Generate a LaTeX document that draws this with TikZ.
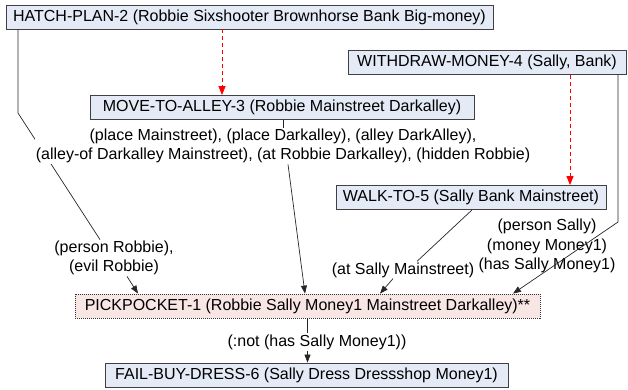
\documentclass[tikz,border=0pt]{standalone}
\usepackage{fontspec}
\setmainfont{Liberation Sans}
\usetikzlibrary{arrows.meta}
\definecolor{stepfill}{HTML}{E4EBF6}
\definecolor{flawfill}{HTML}{F8E6E4}
\definecolor{orderred}{HTML}{FF0000}

\begin{document}
\begin{tikzpicture}[x=1pt, y=-1pt,
	every node/.style={font=\fontsize{16}{19.5}\selectfont},
	act/.style={shape=rectangle, draw=black!75, fill=stepfill, line width=0.8pt, minimum height=24pt, inner sep=0pt},
	flaw/.style={act, fill=flawfill, draw=black!80, dash pattern=on 1pt off 1pt},
	facts/.style={align=center, inner sep=1pt},
	link/.style={-, draw=black!85, line width=0.7pt},
	causal/.style={link, -{Triangle[length=8pt, width=6pt]}},
	order/.style={draw=orderred, line width=0.8pt, dash pattern=on 4pt off 3pt, -{Triangle[length=9pt, width=7pt]}}]
	
	\useasboundingbox (0,0) rectangle (628,390);
	
	\node[act, minimum width=487pt] (hatch) at (249.5, 17)     {HATCH-PLAN-2 (Robbie Sixshooter Brownhorse Bank Big-money)};
	\node[act, minimum width=384pt] (move) at (282, 107.5)     {MOVE-TO-ALLEY-3 (Robbie Mainstreet Darkalley)};
	\node[act, minimum width=278pt] (withdraw) at (487, 62.5)     {WITHDRAW-MONEY-4 (Sally, Bank)};
	\node[act, minimum width=270pt] (walk) at (471, 197.5)     {WALK-TO-5 (Sally Bank Mainstreet)};
	\node[flaw, minimum width=465pt] (pickpocket) at (307.5, 306)     {PICKPOCKET-1 (Robbie Sally Money1 Mainstreet Darkalley)**};
	\node[act, minimum width=403pt] (fail) at (306.5, 375)     {FAIL-BUY-DRESS-6 (Sally Dress Dressshop Money1)};
	
	\node[facts] (robbiefacts) at (114, 258)     {(person Robbie),\\(evil Robbie)};
	\node[facts] (atsally) at (403, 270)     {(at Sally Mainstreet)};
	\node[facts] (sallyfacts) at (547, 246)     {(person Sally)\\(money Money1)\\(has Sally Money1)};
	\node[facts] (notfact) at (317, 342)     {(:not (has Sally Money1))};
	
	\coordinate (hbend) at (18, 113);
	\coordinate (wbend) at (618, 222);
	
	\draw[link] (hbend |- hatch.south) -- (hbend) -- ([xshift=-14pt]robbiefacts.north);
	\node[facts, fill=white] (alleyfacts) at (283, 146)     {(place Mainstreet), (place Darkalley), (alley DarkAlley),\\(alley-of Darkalley Mainstreet), (at Robbie Darkalley), (hidden Robbie)};
	
	\draw[order] ([xshift=-27.5pt]hatch.south) -- ([xshift=-27.5pt]hatch.south |- move.north);
	\draw[order] ([xshift=83pt]withdraw.south) -- ([xshift=83pt]withdraw.south |- walk.north);
	
	\draw[causal] ([xshift=13pt]robbiefacts.south) -- ([xshift=-169.5pt]pickpocket.north);
	\draw[link] ([xshift=1pt]move.south) -- (alleyfacts.north);
	\draw[causal] ([xshift=5pt]alleyfacts.south) -- ([xshift=-2.5pt]pickpocket.north);
	\draw[link] ([xshift=1pt]walk.south) -- ([xshift=14pt]atsally.north);
	\draw[causal] ([xshift=-10pt]atsally.south) -- ([xshift=72.5pt]pickpocket.north);
	\draw[causal] (wbend |- withdraw.south) -- (wbend) -- ([xshift=205.5pt]pickpocket.north);
	\draw[link] (pickpocket.south) -- (pickpocket.south |- notfact.north);
	\draw[causal] (pickpocket.south |- notfact.south) -- (pickpocket.south |- fail.north);
	
\end{tikzpicture}
\end{document}
